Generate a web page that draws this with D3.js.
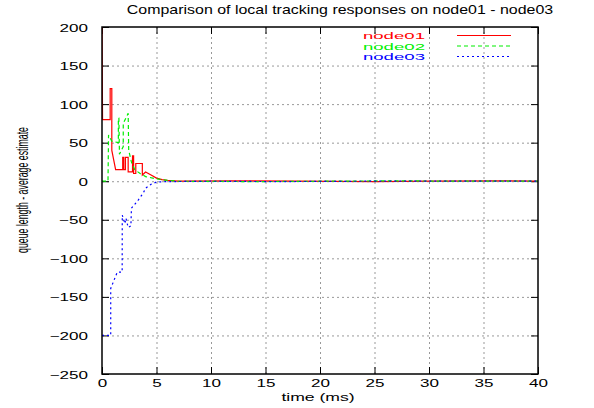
<!DOCTYPE html>
<html>
<head>
<meta charset="utf-8">
<script src="https://cdn.jsdelivr.net/npm/d3@7"></script>
<style>
body{margin:0;background:#fff;}
svg{display:block;font-family:"Liberation Sans",Arial,sans-serif;}
</style>
</head>
<body>
<svg id="canvas" width="594" height="408"></svg>
<script>
// data: [time ms, queue length - average estimate]
const node01 = [[0,200],[0.05,80],[0.75,80],[0.75,120],[0.9,120],[0.9,40],[1.25,15],[1.9,15],[1.9,31],[2.0,31],[2.0,15],[2.15,15],[2.15,31],[2.4,31],[2.4,12],[2.8,12],[2.8,33],[2.9,33],[2.9,10],[3.1,10],[3.1,23],[3.7,23],[3.7,8],[4.0,12],[4.5,8],[5,4],[5.5,2],[6,1],[7,0],[12,0.5],[18,0],[25,-0.5],[30,0],[36,0.5],[40,0]];
const node02 = [[0,0],[0.55,0],[0.6,60],[0.9,52],[1.5,50],[1.5,82],[1.55,82],[1.6,35],[1.95,45],[1.95,75],[2.4,88],[2.45,40],[2.7,25],[3.0,15],[3.5,10],[4,6],[5,3],[6,1],[7,0],[14,-0.5],[20,0],[27,0.5],[33,0],[40,0]];
const node03 = [[0,-200],[0.8,-200],[0.8,-139],[1.4,-118],[1.85,-118],[1.86,-44],[2.1,-55],[2.2,-48],[2.4,-60],[2.65,-58],[2.7,-35],[3.3,-25],[3.8,-15],[4.0,-9],[4.5,-4],[5,-1],[6,-0.5],[10,0],[16,-0.5],[24,0],[40,0]];
const seriesNames = ["node01","node02","node03"];
const seriesColors = ["#ff0000","#00ee00","#0000ff"];
const seriesDash = [null,"4,3","2,3"];
const xTicks = [0,5,10,15,20,25,30,35,40];
const yTicks = [-250,-200,-150,-100,-50,0,50,100,150,200];
const titleText = "Comparison of local tracking responses on node01 - node03";

let canvas = d3.select("#canvas");
const pL = 102, pR = 538, pT = 27, pB = 374;

const x = d3.scaleLinear().domain([0,40]).range([pL,pR]);
const y = d3.scaleLinear().domain([-250,200]).range([pB,pT]);

// grid
canvas.append("g").attr("transform",`translate(0,${pB})`)
  .call(d3.axisBottom(x).tickValues(xTicks.slice(1,-1)).tickSize(-(pB-pT)).tickFormat(""))
  .call(g=>g.select(".domain").remove())
  .selectAll("line").attr("stroke","#999").attr("stroke-dasharray","2,3");
canvas.append("g").attr("transform",`translate(${pL},0)`)
  .call(d3.axisLeft(y).tickValues(yTicks.slice(1,-1)).tickSize(-(pR-pL)).tickFormat(""))
  .call(g=>g.select(".domain").remove())
  .selectAll("line").attr("stroke","#999").attr("stroke-dasharray","2,3");

// ticks on all four sides, pointing in
const tk = 7;
canvas.append("g").attr("transform",`translate(0,${pB})`)
  .call(d3.axisBottom(x).tickValues(xTicks).tickSizeInner(-tk).tickSizeOuter(0))
  .call(g=>g.select(".domain").remove())
  .call(g=>g.selectAll("line").attr("stroke","#000"))
  .call(g=>g.selectAll("text").attr("y",13).attr("dy",null)
     .attr("transform","scale(1.55,1)").attr("x",0)
     .style("font-size","11px").attr("fill","#000"));
canvas.append("g").attr("transform",`translate(0,${pT})`)
  .call(d3.axisTop(x).tickValues(xTicks).tickSizeInner(-tk).tickSizeOuter(0).tickFormat(""))
  .call(g=>g.select(".domain").remove()).selectAll("line").attr("stroke","#000");
canvas.append("g").attr("transform",`translate(${pL},0)`)
  .call(d3.axisLeft(y).tickValues(yTicks).tickSizeInner(-tk).tickSizeOuter(0))
  .call(g=>g.select(".domain").remove())
  .call(g=>g.selectAll("line").attr("stroke","#000"))
  .call(g=>g.selectAll("text").attr("x",0).attr("dy",null).attr("y",4)
     .attr("transform","translate(-14,0) scale(1.55,1)")
     .style("font-size","11px").attr("fill","#000"));
canvas.append("g").attr("transform",`translate(${pR},0)`)
  .call(d3.axisRight(y).tickValues(yTicks).tickSizeInner(-tk).tickSizeOuter(0).tickFormat(""))
  .call(g=>g.select(".domain").remove()).selectAll("line").attr("stroke","#000");

// data lines
canvas.append("clipPath").attr("id","clip").append("rect")
  .attr("x",pL).attr("y",pT).attr("width",pR-pL).attr("height",pB-pT);
let line = d3.line().x(d=>x(d[0])).y(d=>y(d[1]));
[node01,node02,node03].forEach((s,i)=>{
  canvas.append("path").datum(s).attr("clip-path","url(#clip)")
    .attr("d",line).attr("fill","none")
    .attr("stroke",seriesColors[i]).attr("stroke-width",1.2)
    .attr("stroke-dasharray",seriesDash[i]);
});

// frame
canvas.append("rect").attr("x",pL).attr("y",pT).attr("width",pR-pL).attr("height",pB-pT)
  .attr("fill","none").attr("stroke","#000").attr("stroke-width",1.5);

// legend
let leg = canvas.append("g");
seriesNames.forEach((n,i)=>{
  let yy = 35.5 + i*10.5;
  leg.append("text").text(n).attr("text-anchor","end")
    .attr("transform",`translate(425,${yy+3.6}) scale(1.9,1)`)
    .style("font-size","9.8px").attr("fill",seriesColors[i]);
  leg.append("line").attr("x1",457).attr("x2",511).attr("y1",yy).attr("y2",yy)
    .attr("stroke",seriesColors[i]).attr("stroke-width",1.2).attr("stroke-dasharray",seriesDash[i]);
});

// title and axis labels
canvas.append("text").text(titleText).attr("text-anchor","middle")
  .attr("transform","translate(340,14) scale(1.33,1)").style("font-size","12px");
canvas.append("text").text("time (ms)").attr("text-anchor","middle")
  .attr("transform","translate(318,401) scale(1.6,1)").style("font-size","11px");
canvas.append("text").text("queue length - average estimate").attr("text-anchor","middle")
  .attr("transform","translate(22,190) scale(1.35,1) rotate(-90)").style("font-size","12px")
  .attr("dy","0.35em")
  .attr("textLength",126).attr("lengthAdjust","spacingAndGlyphs");
</script>
</body>
</html>
